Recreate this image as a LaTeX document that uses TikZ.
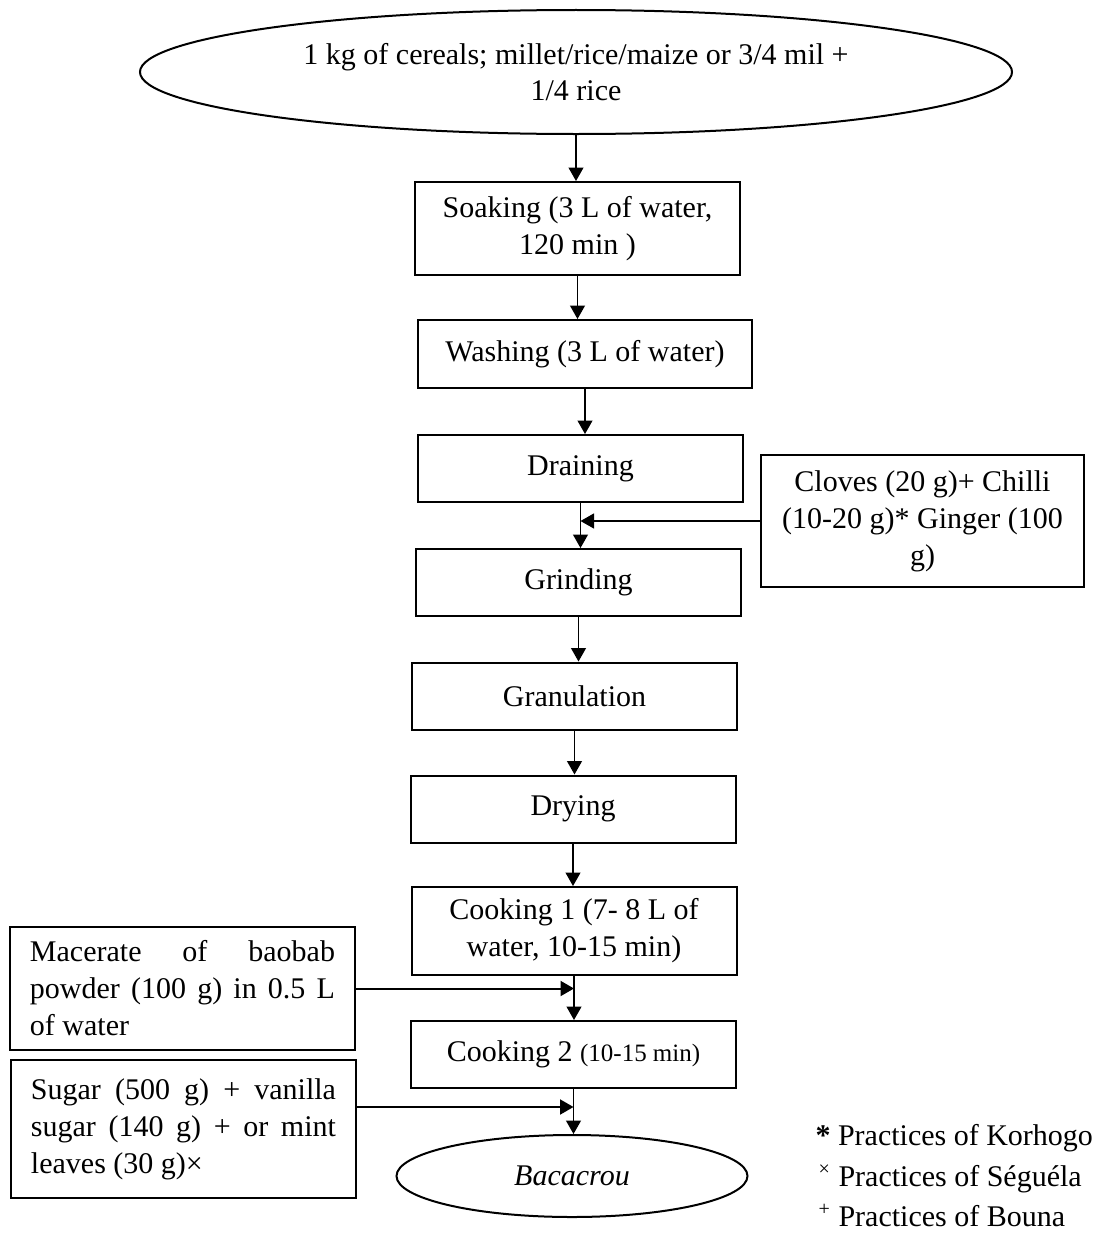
\documentclass[tikz,border=0pt]{standalone}
\usepackage{fontspec}
\setmainfont{Liberation Serif}
\usetikzlibrary{arrows.meta,shapes.geometric}

\tikzset{
  stepbox/.style={draw, line width=0.8pt, text width=122pt, inner xsep=4pt, align=flush center,
    minimum height=26.8pt, font=\fontsize{12}{14.8}\selectfont},
  sidebox/.style={draw, line width=0.8pt, text width=122pt, inner xsep=8pt, align=justify,
    font=\fontsize{12}{14.8}\selectfont},
  endpoint/.style={draw, ellipse, line width=0.8pt, inner sep=0pt, align=flush center,
    font=\fontsize{12}{14.4}\selectfont},
  flow/.style={line width=0.5pt, -{Triangle[length=5.4pt,width=6pt]}},
  keytext/.style={anchor=base west, inner sep=0pt, font=\fontsize{12}{14.8}\selectfont}
}

\begin{document}
\begin{tikzpicture}[x=0.4pt, y=-0.4pt]
\useasboundingbox (0,0) rectangle (1094,1253);

% Raw material
\node[endpoint, minimum width=348.8pt, minimum height=49.6pt] (cereal) at (576,72)
  {1 kg of cereals; millet/rice/maize or 3/4 mil +\\1/4 rice};

% Main steps
\node[stepbox, minimum height=37.2pt] (soak) at (577.5,228.5) {Soaking (3 L of water,\\120 min )};
\node[stepbox, text width=125.6pt, minimum height=27.2pt] (wash) at (585,354) {Washing (3 L of water)};
\node[stepbox] (drain) at (580.5,468.5) {Draining};
\node[stepbox] (grind) at (578.5,582.5) {Grinding};
\node[stepbox] (granul) at (574.5,696) {Granulation};
\node[stepbox] (dry) at (573,809) {Drying};
\node[stepbox, minimum height=35.2pt] (cook1) at (574,931) {Cooking 1 (7- 8 L of\\water, 10-15 min)};
\node[stepbox] (cook2) at (573.5,1054.5) {Cooking 2 {\fontsize{10}{12}\selectfont(10-15 min)}};

% Final product
\node[endpoint, minimum width=140.4pt, minimum height=32.8pt] (product) at (572,1176) {\textit{Bacacrou}};

% Added ingredients
\node[stepbox, text width=121.2pt, minimum height=52.8pt] (spice) at (922.5,521)
  {Cloves (20 g)+ Chilli\\(10-20 g)* Ginger (100\\g)};
\node[sidebox, minimum height=49.2pt] (baobab) at (182.5,988.5)
  {Macerate of baobab\linebreak powder (100 g) in 0.5 L\linebreak of water};
\node[sidebox, minimum height=55.2pt] (sugar) at (183.5,1129)
  {Sugar (500 g) + vanilla\linebreak sugar (140 g) + or mint\linebreak leaves (30 g)×};

% Flow
\draw[flow] (cereal.south) -- (cereal.south |- soak.north);
\draw[flow] (soak.south) -- (soak.south |- wash.north);
\draw[flow] (wash.south) -- (wash.south |- drain.north);
\draw[flow] (drain.south) -- (drain.south |- grind.north);
\draw[flow] (grind.south) -- (grind.south |- granul.north);
\draw[flow] (granul.south) -- (granul.south |- dry.north);
\draw[flow] (dry.south) -- (dry.south |- cook1.north);
\draw[flow] (cook1.south) -- (cook1.south |- cook2.north);
\draw[flow] (cook2.south) -- (cook2.south |- product.north);

% Side inputs
\coordinate (mix) at (573.5,1107);
\draw[flow] (spice.west) -- (drain.south |- spice.west);
\draw[flow, line width=0.8pt] (baobab.east) -- (cook1.south |- baobab.east);
\draw[flow, line width=0.8pt] (sugar.east |- mix) -- (mix);

% Key
\node[keytext] (key1) at (815,1145) {\textbf{*} Practices of Korhogo};
\node[keytext] (key2) at (818,1186) {\textsuperscript{×} Practices of Séguéla};
\node[keytext] (key3) at (818,1226) {\textsuperscript{+} Practices of Bouna};
\end{tikzpicture}
\end{document}
